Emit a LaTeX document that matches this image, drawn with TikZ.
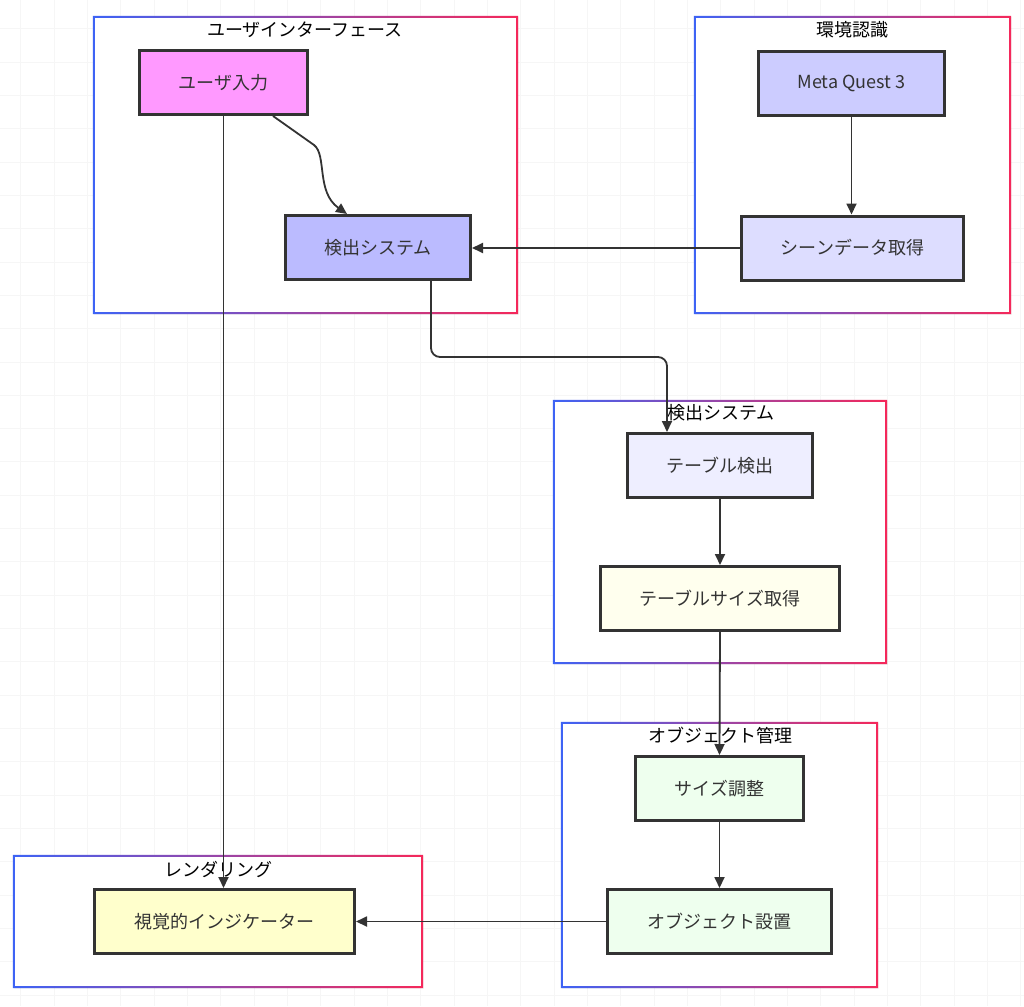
\documentclass[tikz,border=0pt]{standalone}
\usepackage{fontspec}
\setmainfont{Noto Sans CJK JP}
\usetikzlibrary{arrows.meta,shadows}
\definecolor{cblue}{HTML}{3D63F5}
\definecolor{cred}{HTML}{F5285A}
\definecolor{ink}{HTML}{333333}
\definecolor{gridc}{HTML}{F6F6F6}
\definecolor{fUser}{HTML}{FF99FF}
\definecolor{fDet}{HTML}{BBBBFF}
\definecolor{fMeta}{HTML}{CCCCFF}
\definecolor{fScene}{HTML}{DDDDFF}
\definecolor{fTable}{HTML}{EEEEFF}
\definecolor{fSize}{HTML}{FFFFEE}
\definecolor{fObj}{HTML}{EEFFEE}
\definecolor{fVis}{HTML}{FFFFCC}
\newcommand\gframe[1]{\shade[left color=cblue,right color=cred,even odd rule]
  (#1.north west) rectangle (#1.south east)
  ([xshift=2pt,yshift=-2pt]#1.north west) rectangle ([xshift=-2pt,yshift=2pt]#1.south east);}
\tikzset{
  box/.style={draw=ink, line width=3pt, text=ink, inner sep=0pt,
    font=\fontsize{18}{21}\selectfont, minimum height=64pt,
    drop shadow={shadow xshift=1.5pt, shadow yshift=-1.5pt, opacity=0.18}},
  cluster/.style={fill=white, draw=none, inner sep=0pt,
    drop shadow={shadow xshift=1pt, shadow yshift=-1pt, opacity=0.08}},
  ctitle/.style={text=black, inner sep=0pt, font=\fontsize{18}{21}\selectfont},
  conn/.style={draw=ink, line width=1.8pt, -{Triangle[length=11pt,width=10pt]}},
}
\begin{document}
\begin{tikzpicture}[x=1pt,y=-1pt]
\useasboundingbox (0,0) rectangle (1024,1006);
\fill[white] (0,0) rectangle (1024,1006);
% background grid
\foreach \k in {0,...,30} {
  \draw[gridc, line width=0.8pt] (20.7+33.33*\k,0) -- (20.7+33.33*\k,1006);
  \draw[gridc, line width=0.8pt] (0,28.6+33.33*\k) -- (1024,28.6+33.33*\k);
}
% clusters
\node[cluster, minimum width=425pt, minimum height=298pt] (cUI)  at (305.5,165) {};
\node[cluster, minimum width=317pt, minimum height=298pt] (cENV) at (852.5,165) {};
\node[cluster, minimum width=334pt, minimum height=264pt] (cDET) at (720,532) {};
\node[cluster, minimum width=317pt, minimum height=266pt] (cOBJ) at (719.5,855) {};
\node[cluster, minimum width=410pt, minimum height=133pt] (cREN) at (218,921.5) {};
\gframe{cUI}\gframe{cENV}\gframe{cDET}\gframe{cOBJ}\gframe{cREN}
\node[ctitle] (tUI)  at (305,30)  {ユーザインターフェース};
\node[ctitle] (tENV) at (852,30)  {環境認識};
\node[ctitle] (tDET) at (721,413) {検出システム};
\node[ctitle] (tOBJ) at (720,736) {オブジェクト管理};
\node[ctitle] (tREN) at (218,869) {レンダリング};
% nodes
\node[box, fill=fUser,  minimum width=168pt] (u1) at (223.5,82.5) {ユーザ入力};
\node[box, fill=fDet,   minimum width=185pt] (d1) at (378,247.5) {検出システム};
\node[box, fill=fMeta,  minimum width=186pt] (mq) at (851.5,83.5) {Meta Quest 3};
\node[box, fill=fScene, minimum width=222pt] (sd) at (852.5,248) {シーンデータ取得};
\node[box, fill=fTable, minimum width=185pt] (t1) at (720,465.5) {テーブル検出};
\node[box, fill=fSize,  minimum width=239pt] (ts) at (720,598.5) {テーブルサイズ取得};
\node[box, fill=fObj,   minimum width=168pt] (sa) at (719.5,788.5) {サイズ調整};
\node[box, fill=fObj,   minimum width=224pt] (os) at (719.5,921.5) {オブジェクト設置};
\node[box, fill=fVis,   minimum width=260pt] (vi) at (224.5,921.5) {視覚的インジケーター};
% connectors
\draw[conn] ([xshift=49.5pt]u1.south) -- (314,145) .. controls (327,155) and (316,192) .. ([xshift=-31pt]d1.north);
\draw[conn] (u1.south) -- (u1.south |- vi.north);
\draw[conn] (mq.south) -- (mq.south |- sd.north);
\draw[conn] (sd.west) -- (sd.west -| d1.east);
\draw[conn, rounded corners=9pt] ([xshift=53pt]d1.south) -- ([xshift=53pt]d1.south |- 0,357) -- ([xshift=-53pt]t1.north |- 0,357) -- ([xshift=-53pt]t1.north);
\draw[conn] (t1.south) -- (ts.north);
\draw[conn] (ts.south) -- (sa.north);
\draw[conn] (sa.south) -- (os.north);
\draw[conn] (os.west) -- (os.west -| vi.east);
\end{tikzpicture}
\end{document}
